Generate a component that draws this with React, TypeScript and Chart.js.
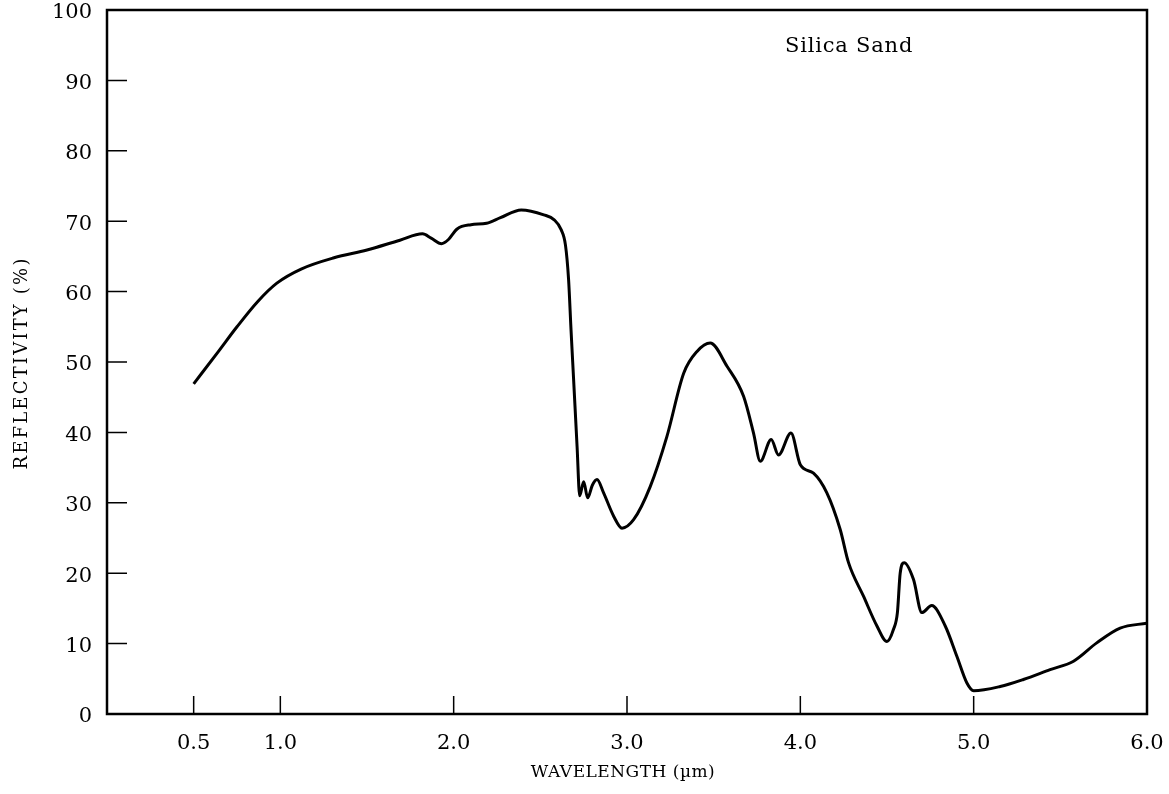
import React, { useEffect, useRef } from "react";
import { Chart, registerables } from "chart.js";

Chart.register(...registerables);

const wavelength = [
  0.5, 0.64, 0.75, 0.87, 0.98, 1.12, 1.31, 1.5, 1.69, 1.82, 1.87, 1.93, 1.97,
  2.02, 2.1, 2.19, 2.27, 2.39, 2.52, 2.58, 2.62, 2.645, 2.663, 2.677, 2.692,
  2.712, 2.727, 2.75, 2.773, 2.8, 2.827, 2.865, 2.923, 2.971, 3.038, 3.134,
  3.23, 3.327, 3.404, 3.48, 3.577, 3.673, 3.73, 3.769, 3.832, 3.874, 3.946,
  4.0, 4.076, 4.153, 4.23, 4.278, 4.365, 4.442, 4.5, 4.537, 4.56, 4.576,
  4.599, 4.653, 4.701, 4.758, 4.836, 4.903, 4.961, 5.0, 5.153, 5.287, 5.441,
  5.576, 5.71, 5.845, 6.0,
];

const reflectivity = [
  46.9, 51.4, 55.0, 58.6, 61.2, 63.2, 64.8, 65.9, 67.3, 68.2, 67.6, 66.8, 67.4,
  68.9, 69.5, 69.7, 70.5, 71.6, 70.9, 70.2, 68.8, 66.6, 61.7, 54.6, 47.5,
  38.0, 31.0, 33.0, 30.7, 32.5, 33.3, 31.4, 28.1, 26.4, 27.6, 32.3,
  39.4, 48.4, 51.5, 52.7, 49.4, 45.1, 39.9, 35.9, 39.0, 36.8, 39.9,
  35.4, 34.2, 31.4, 26.2, 21.5, 16.7, 12.5, 10.3, 12.0, 14.4, 20.0,
  21.5, 19.1, 14.4, 15.4, 12.5, 8.2, 4.4, 3.3, 3.9, 4.9, 6.3,
  7.5, 10.1, 12.2, 12.9,
];

const xTickValues = [0.5, 1, 2, 3, 4, 5, 6];
const yTickValues = [0, 10, 20, 30, 40, 50, 60, 70, 80, 90, 100];

const sampleLabel = "Silica Sand";
const xTitle = "WAVELENGTH (\u00b5m)";
const yTitle = "REFLECTIVITY (%)";

const FONT = "'DejaVu Serif', 'Liberation Serif', serif";

export default function App() {
  const ref = useRef<HTMLCanvasElement | null>(null);

  useEffect(() => {
    document.body.style.margin = "0";
    const canvas = ref.current;
    if (!canvas) return;

    const framePlugin = {
      id: "frame",
      afterDraw(chart: any) {
        const { ctx, chartArea } = chart;
        const xs = chart.scales.x;
        const ys = chart.scales.y;
        ctx.save();
        ctx.strokeStyle = "#000";
        // inward ticks
        ctx.lineWidth = 1.5;
        ctx.beginPath();
        xTickValues.forEach((v) => {
          if (v >= 6) return;
          const px = xs.getPixelForValue(v);
          ctx.moveTo(px, chartArea.bottom);
          ctx.lineTo(px, chartArea.bottom - 18);
        });
        yTickValues.forEach((v) => {
          if (v <= 0 || v >= 100) return;
          const py = ys.getPixelForValue(v);
          ctx.moveTo(chartArea.left, py);
          ctx.lineTo(chartArea.left + 20, py);
        });
        ctx.stroke();
        // frame
        ctx.lineWidth = 2.5;
        ctx.strokeRect(
          chartArea.left,
          chartArea.top,
          chartArea.right - chartArea.left,
          chartArea.bottom - chartArea.top
        );
        // texts
        ctx.fillStyle = "#000";
        ctx.textAlign = "center";
        ctx.textBaseline = "middle";
        (ctx as any).letterSpacing = "0.5px";
        ctx.font = `17px ${FONT}`;
        ctx.fillText(xTitle, 623, 773);
        ctx.save();
        (ctx as any).letterSpacing = "2.2px";
        ctx.font = `18px ${FONT}`;
        ctx.translate(22, 363);
        ctx.rotate(-Math.PI / 2);
        ctx.fillText(yTitle, 0, 0);
        ctx.restore();
        (ctx as any).letterSpacing = "0.8px";
        ctx.font = `21px ${FONT}`;
        ctx.textAlign = "left";
        ctx.fillText(sampleLabel, 785, 47);
        ctx.restore();
      },
    };

    const chart = new Chart(canvas, {
      type: "line",
      data: {
        datasets: [
          {
            data: wavelength.map((x, i) => ({ x, y: reflectivity[i] })),
            borderColor: "#000",
            borderWidth: 3,
            pointRadius: 0,
            fill: false,
            cubicInterpolationMode: "monotone",
          },
        ],
      },
      options: {
        responsive: false,
        animation: false,
        layout: { padding: { top: 10, right: 22, left: 0, bottom: 0 } },
        plugins: {
          legend: { display: false },
          tooltip: { enabled: false },
          title: { display: false },
        },
        scales: {
          x: {
            type: "linear",
            min: 0,
            max: 6,
            grid: { display: false },
            border: { display: false },
            afterBuildTicks: (s: any) => {
              s.ticks = xTickValues.map((v) => ({ value: v }));
            },
            afterFit: (s: any) => {
              s.height = 80;
              s.paddingLeft = 0;
              s.paddingRight = 0;
            },
            ticks: {
              color: "#000",
              font: { family: FONT, size: 21 },
              padding: 9,
              autoSkip: false,
              maxRotation: 0,
              callback: (v: any) => Number(v).toFixed(1),
            },
          },
          y: {
            type: "linear",
            min: 0,
            max: 100,
            grid: { display: false },
            border: { display: false },
            afterBuildTicks: (s: any) => {
              s.ticks = yTickValues.map((v) => ({ value: v }));
            },
            afterFit: (s: any) => {
              s.width = 107;
              s.paddingTop = 0;
              s.paddingBottom = 0;
            },
            ticks: {
              color: "#000",
              font: { family: FONT, size: 21 },
              padding: 7,
              labelOffset: 3,
              autoSkip: false,
            },
          },
        },
      },
      plugins: [framePlugin],
    } as any);

    return () => chart.destroy();
  }, []);

  return (
    <div style={{ position: "absolute", left: 0, top: 0, width: 1169, height: 794, background: "#fff" }}>
      <canvas ref={ref} width={1169} height={794} style={{ display: "block" }} />
    </div>
  );
}
